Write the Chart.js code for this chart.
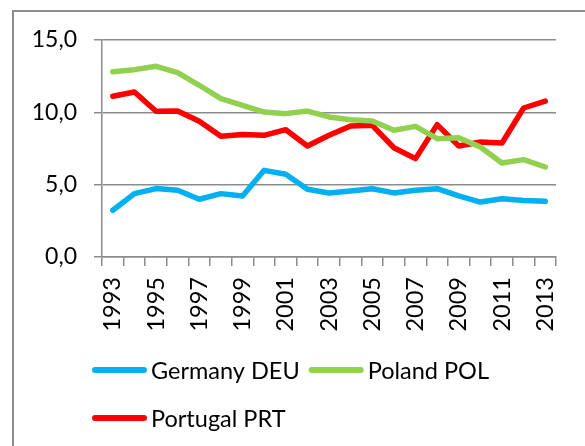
<!DOCTYPE html>
<html>
<head>
<meta charset="utf-8">
<script src="https://cdn.jsdelivr.net/npm/chart.js@4.4.1/dist/chart.umd.min.js"></script>
<style>
html,body{margin:0;padding:0;background:#ffffff;overflow:hidden;}
#wrap{position:relative;width:585px;height:446px;overflow:hidden;}
#frame{position:absolute;left:12px;top:10px;width:640px;height:500px;border-left:2px solid #8c8c8c;border-top:2px solid #8c8c8c;}
#c{position:absolute;left:0;top:0;}
</style>
</head>
<body>
<div id="wrap"><div id="frame"></div><canvas id="c" width="585" height="446"></canvas></div>
<script>
// ---- data ----
const years = ['1993','1994','1995','1996','1997','1998','1999','2000','2001','2002','2003',
               '2004','2005','2006','2007','2008','2009','2010','2011','2012','2013'];
const germanyDEU  = [3.23,4.38,4.73,4.61,3.99,4.38,4.22,5.99,5.72,4.68,4.43,4.57,4.72,4.43,4.61,4.72,4.22,3.80,4.03,3.90,3.85];
const polandPOL   = [12.81,12.95,13.18,12.74,11.87,10.95,10.48,10.02,9.91,10.09,9.68,9.49,9.40,8.76,9.03,8.18,8.25,7.60,6.50,6.73,6.22];
const portugalPRT = [11.11,11.41,10.07,10.09,9.38,8.34,8.46,8.41,8.80,7.67,8.41,9.06,9.10,7.55,6.80,9.15,7.67,7.95,7.88,10.30,10.78];
const seriesNames = ['Germany DEU','Poland POL','Portugal PRT'];
const yMin = 0, yMax = 15, yStep = 5;

const FONT = 'Lato';
const GRID = '#8c8c8c';

function mk(label, data, color){
  return {label, data, borderColor: color, backgroundColor: color, borderWidth: 5.5,
    pointRadius: 0, pointHoverRadius: 0, tension: 0, fill: false,
    borderCapStyle: 'round', borderJoinStyle: 'round'};
}

const customLegend = {
  id: 'customLegend',
  afterDraw(chart){
    const ctx = chart.ctx;
    ctx.save();
    ctx.font = '23.5px ' + FONT;
    ctx.textBaseline = 'middle';
    ctx.textAlign = 'left';
    const startX = 92, lineLen = 55, gapText = 4, gapItem = 9, rowH = 48, maxRight = 560;
    let x = startX, y = 370;
    chart.data.datasets.forEach(ds => {
      const tw = ctx.measureText(ds.label).width;
      const w = lineLen + gapText + tw;
      if (x !== startX && x + w > maxRight) { x = startX; y += rowH; }
      ctx.strokeStyle = ds.borderColor;
      ctx.lineWidth = 6;
      ctx.lineCap = 'round';
      ctx.beginPath();
      ctx.moveTo(x + 3, y);
      ctx.lineTo(x + lineLen - 3, y);
      ctx.stroke();
      ctx.fillStyle = '#000000';
      ctx.fillText(ds.label, x + lineLen + gapText, y + 1);
      x += w + gapItem;
    });
    ctx.restore();
  }
};

new Chart(document.getElementById('c'), {
  type: 'line',
  data: {
    labels: years,
    datasets: [
      mk(seriesNames[0], germanyDEU, '#00B0F0'),
      mk(seriesNames[1], polandPOL, '#92D050'),
      mk(seriesNames[2], portugalPRT, '#FF0000')
    ]
  },
  options: {
    responsive: false,
    animation: false,
    devicePixelRatio: 1,
    layout: { padding: { left: 0, top: 40, right: 23, bottom: 100 } },
    plugins: { legend: { display: false }, tooltip: { enabled: false } },
    scales: {
      x: {
        type: 'category',
        offset: true,
        grid: { drawOnChartArea: false, drawTicks: true, tickLength: 9, color: GRID, lineWidth: 1.5, offset: true },
        border: { color: GRID, width: 1.5 },
        ticks: {
          autoSkip: false, minRotation: 90, maxRotation: 90, padding: 11,
          color: '#000000', font: { family: FONT, size: 23.5 },
          callback: (v, i) => (i % 2 === 0 ? years[i] : '')
        },
        afterFit: s => { s.height = 89; }
      },
      y: {
        min: yMin, max: yMax,
        grid: { color: GRID, lineWidth: 1.5, tickLength: 8, drawTicks: true },
        border: { color: GRID, width: 1.5 },
        ticks: {
          stepSize: yStep, padding: 17, color: '#000000', font: { family: FONT, size: 23 },
          callback: v => v.toFixed(1).replace('.', ',')
        },
        afterFit: s => { s.width = 102; }
      }
    }
  },
  plugins: [customLegend]
});
</script>
</body>
</html>
